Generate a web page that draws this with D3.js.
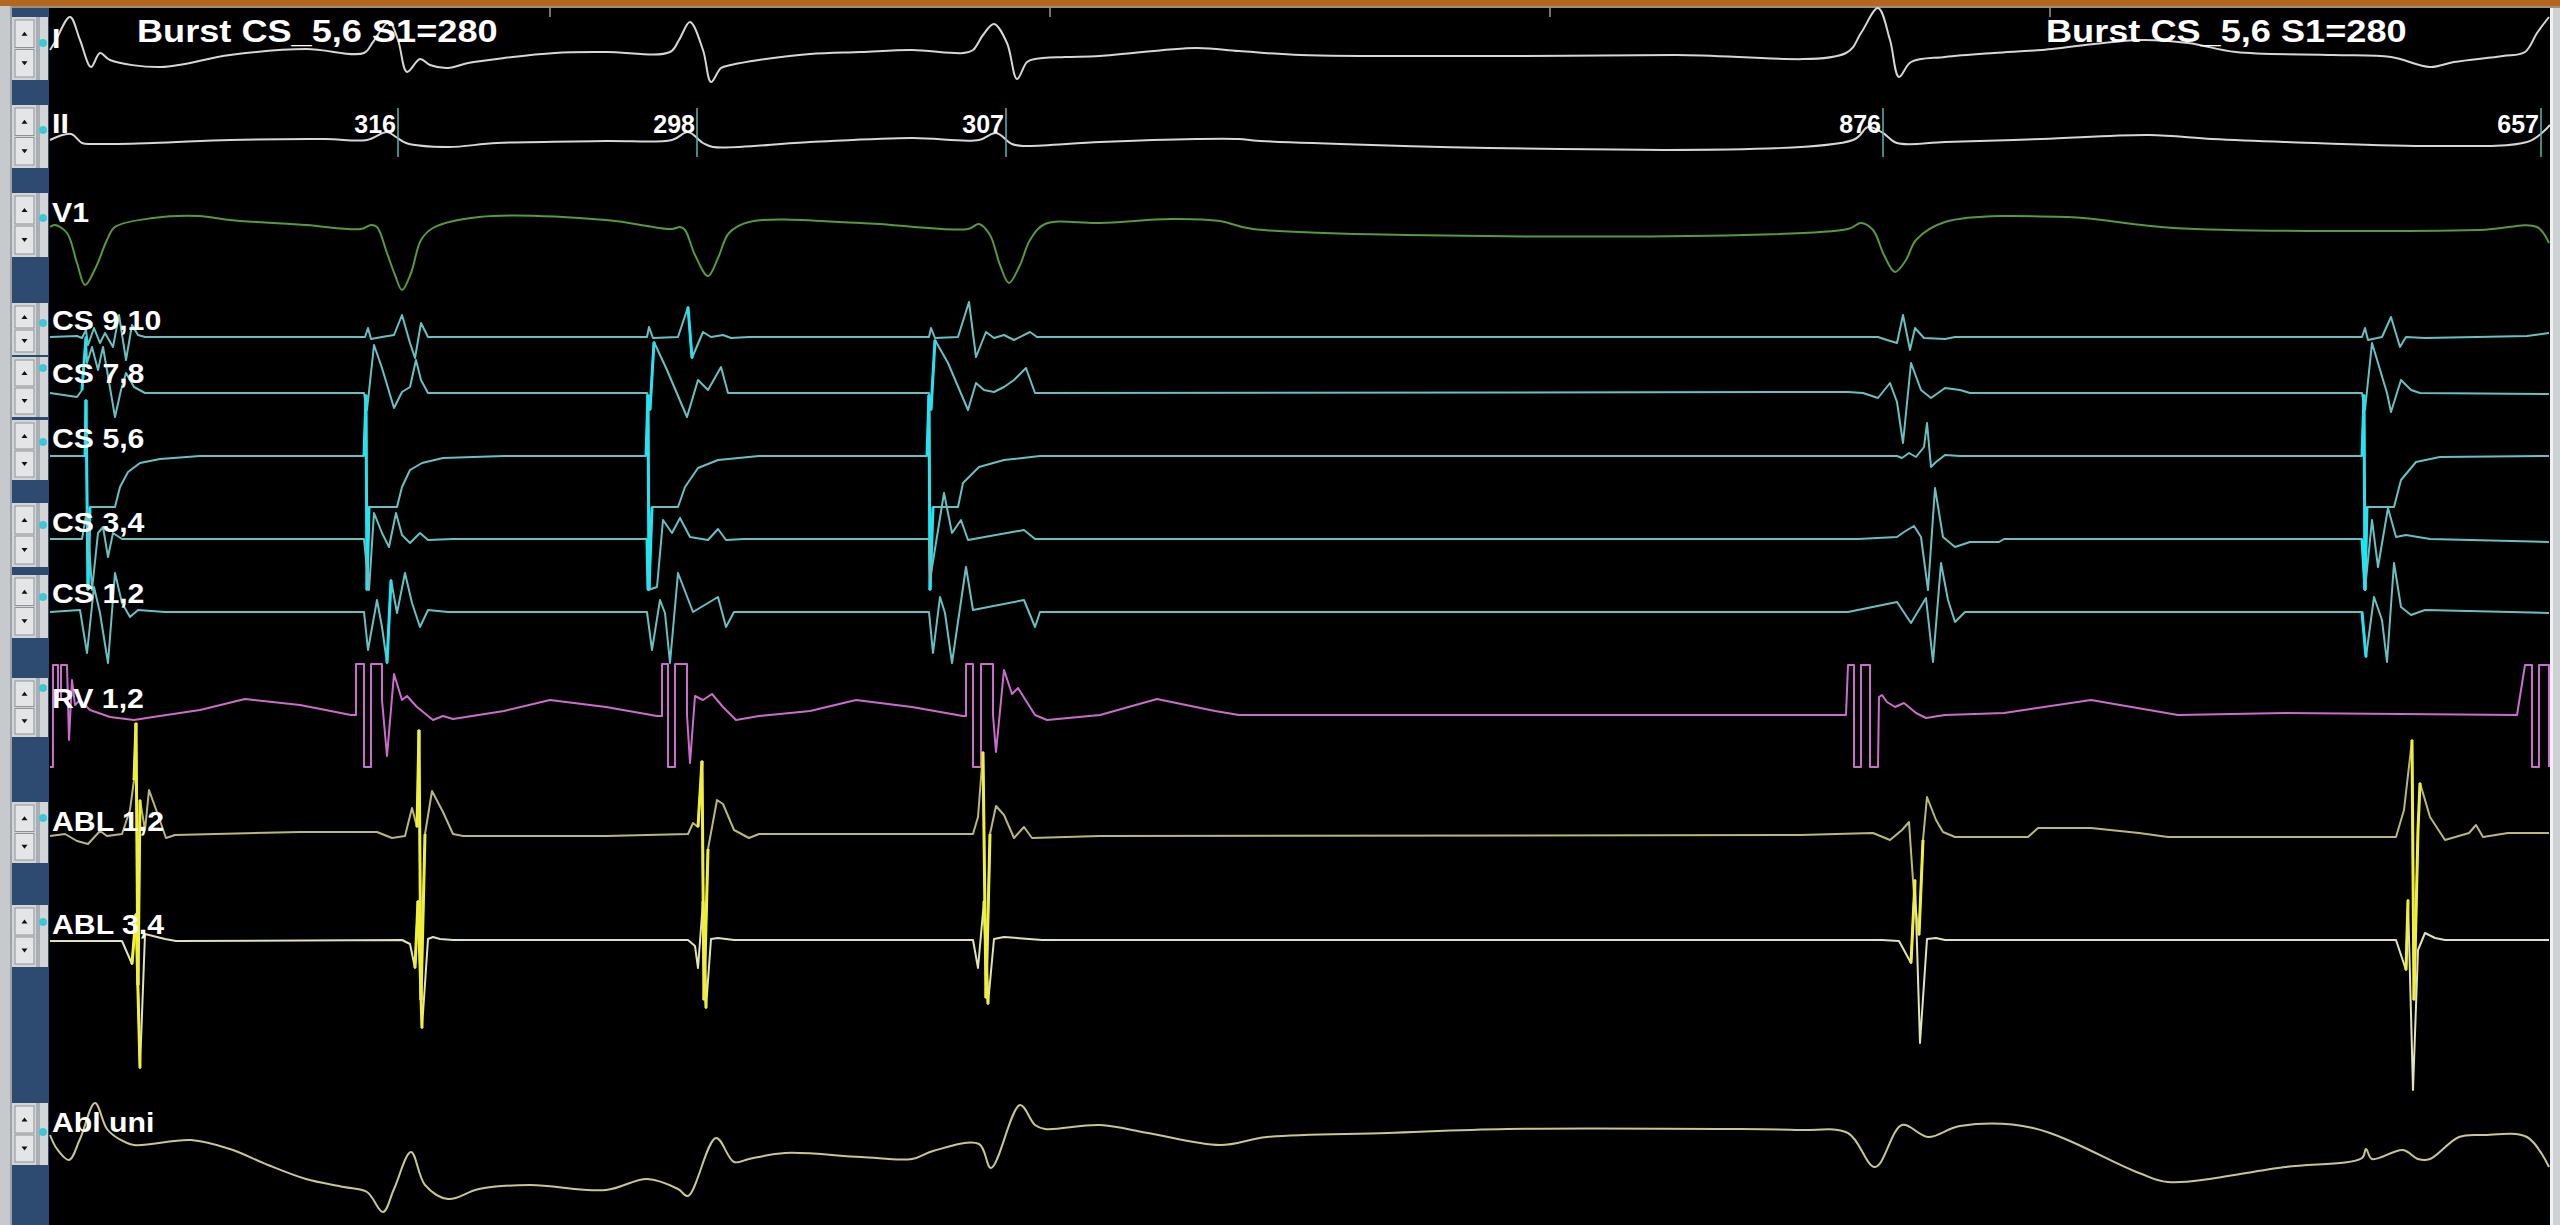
<!DOCTYPE html>
<html>
<head>
<meta charset="utf-8">
<script src="https://d3js.org/d3.v7.min.js"></script>
<style>
  body { margin: 0; background: #000; overflow: hidden; }
  .lbl { font-family: "Liberation Sans", Arial, sans-serif; font-weight: bold; fill: #fff; }
</style>
</head>
<body>
<script>
// ---- data: [time ms, amplitude] ----
const channelNames = ["I", "II", "V1", "CS 9,10", "CS 7,8", "CS 5,6", "CS 3,4", "CS 1,2", "RV 1,2", "ABL 1,2", "ABL 3,4", "Abl uni"];

const traceI = [[0,2],[5,10],[20,35],[30,12],[41,-15],[50,-1],[60,-8],[111,-15],[180,-3],[256,3],[314,-1],[323,10],[339,30],[348,12],[357,-20],[370,-7],[380,-13],[398,-16],[418,-11],[454,-6],[505,-1],[556,0],[620,0],[629,12],[640,30],[653,2],[661,-30],[671,-16],[681,-13],[709,-8],[760,-2],[811,0],[862,2],[913,-1],[923,2],[933,17],[944,28],[957,9],[967,-27],[977,-10],[985,-7],[1015,-5],[1050,-4],[1146,4],[1189,1],[1251,-3],[1433,-4],[1624,-3],[1796,-1],[1811,19],[1828,44],[1840,12],[1849,-25],[1861,-10],[1895,-5],[1944,-1],[1992,2],[2089,12],[2138,9],[2186,0],[2283,-3],[2341,-5],[2380,-15],[2404,-10],[2453,-4],[2475,0],[2487,19],[2499,35]];

const traceII = [[0,1],[21,7],[32,-2],[42,-3],[103,-2],[180,1],[275,2],[317,1],[337,9],[346,4],[356,-2],[398,-6],[447,-2],[556,0],[622,1],[638,9],[653,-2],[663,-6],[760,-1],[862,3],[929,1],[946,8],[962,-3],[974,-5],[1050,-1],[1146,2],[1189,2],[1210,0],[1803,1],[1818,14],[1833,8],[1847,-2],[1895,-1],[1992,2],[2099,6],[2162,2],[2235,-1],[2380,-5],[2477,-1],[2493,9],[2500,16]];

const traceV1 = [[0,-5],[5,-3],[17,-11],[27,-41],[35,-63],[46,-45],[57,-18],[65,-5],[103,4],[149,6],[180,2],[256,-3],[311,-7],[321,-3],[327,-5],[337,-31],[345,-53],[352,-68],[361,-51],[371,-18],[383,-6],[429,5],[556,2],[622,-7],[630,-5],[635,-8],[645,-33],[658,-54],[668,-36],[679,-11],[699,0],[811,-1],[918,-7],[929,-2],[940,-13],[950,-43],[959,-61],[970,-43],[980,-18],[995,-2],[1050,-1],[1122,3],[1170,1],[1203,-7],[1798,-7],[1811,-1],[1823,-8],[1834,-33],[1845,-50],[1856,-38],[1866,-18],[1895,0],[2017,5],[2123,-6],[2429,-8],[2487,-5],[2499,-21]];

const traceCS910 = [[0,0],[27,1],[32,-1],[36,7],[38,-8],[44,9],[50,-6],[55,4],[63,-10],[69,22],[76,-23],[82,12],[88,2],[95,0],[315,0],[318,9],[321,-2],[332,0],[344,2],[352,22],[360,-6],[365,-21],[371,14],[378,0],[390,0],[597,0],[599,10],[603,-1],[628,0],[638,30],[642,-21],[653,5],[661,0],[673,2],[681,-1],[699,0],[879,0],[881,9],[885,-1],[908,0],[919,35],[926,-20],[936,5],[944,-1],[954,2],[964,-3],[980,5],[987,0],[1828,0],[1837,-3],[1847,-6],[1853,22],[1860,-13],[1865,9],[1874,-1],[1895,-2],[1905,0],[2312,0],[2315,9],[2318,-3],[2332,0],[2341,20],[2350,-10],[2356,0],[2375,-1],[2477,1],[2499,4]];

const traceCS78 = [[0,0],[27,-4],[32,3],[36,56],[37,30],[42,46],[48,23],[53,46],[65,-24],[71,3],[76,20],[84,6],[95,0],[314,0],[317,-17],[324,48],[332,25],[344,-15],[352,1],[360,6],[366,33],[371,13],[378,0],[403,0],[597,0],[600,-17],[604,51],[617,23],[637,-24],[648,13],[658,3],[671,26],[678,0],[879,0],[881,-17],[885,53],[898,30],[918,-17],[926,10],[934,3],[944,1],[954,6],[964,13],[976,25],[985,0],[1798,1],[1813,0],[1828,-5],[1840,10],[1847,-9],[1853,-50],[1861,30],[1871,3],[1881,-5],[1895,5],[1910,3],[1920,0],[2312,0],[2315,-17],[2322,50],[2337,0],[2341,-19],[2351,13],[2361,3],[2370,0],[2499,-1]];

const traceCS56 = [[0,0],[35,0],[36,56],[38,-134],[40,-51],[65,-51],[70,-31],[78,-16],[90,-7],[110,-3],[150,0],[314,0],[316,61],[317,-134],[319,-51],[347,-51],[352,-31],[360,-14],[372,-7],[393,-2],[454,0],[596,0],[598,61],[599,-134],[602,-51],[628,-51],[635,-31],[648,-12],[668,-4],[709,0],[877,0],[879,61],[880,-134],[883,-51],[908,-51],[913,-27],[929,-11],[954,-4],[990,0],[1847,0],[1852,-2],[1859,3],[1866,-1],[1874,9],[1877,33],[1881,-11],[1886,-6],[1895,1],[1910,0],[2312,0],[2314,61],[2315,-134],[2317,-51],[2344,-51],[2351,-24],[2366,-6],[2390,-1],[2499,0]];

const traceCS34 = [[0,0],[32,0],[37,29],[42,-51],[48,6],[53,12],[58,-18],[63,6],[72,0],[314,0],[319,-51],[324,26],[332,6],[339,-8],[346,26],[352,4],[360,-4],[370,6],[378,-1],[403,0],[597,0],[598,-51],[607,-48],[613,19],[622,6],[630,21],[640,2],[658,-1],[668,10],[676,-1],[694,0],[879,0],[880,-41],[894,46],[902,6],[911,19],[918,-1],[974,9],[985,0],[1808,0],[1847,2],[1854,7],[1864,13],[1871,2],[1878,-51],[1885,51],[1893,2],[1905,-8],[1920,-3],[1949,-3],[1954,0],[2312,0],[2315,-51],[2322,19],[2328,-28],[2338,31],[2346,2],[2356,4],[2380,0],[2499,-3]];

const traceCS12 = [[0,0],[30,2],[37,-41],[44,25],[50,-1],[58,-51],[65,39],[72,9],[80,-5],[88,2],[115,0],[314,0],[318,-38],[327,12],[332,-15],[337,-51],[341,32],[347,-1],[355,39],[362,9],[370,-15],[378,2],[398,0],[597,0],[602,-38],[610,12],[615,-1],[620,-51],[628,39],[643,0],[668,15],[676,-15],[684,0],[879,0],[883,-41],[890,15],[895,-1],[902,-51],[916,45],[923,2],[974,12],[985,-15],[990,0],[1798,0],[1847,10],[1861,-11],[1876,14],[1883,-50],[1891,49],[1898,12],[1905,-10],[1915,0],[2312,0],[2316,-45],[2324,15],[2332,-8],[2337,-50],[2344,49],[2351,5],[2361,-3],[2375,2],[2499,-1]];

const traceRV = [[0,-52],[3,-52],[3,50],[8,50],[8,15],[11,15],[11,50],[17,50],[19,-25],[22,35],[25,10],[30,15],[40,5],[60,-2],[84,-5],[103,-2],[150,5],[195,16],[250,10],[301,0],[306,0],[306,51],[314,51],[314,-52],[321,-52],[321,51],[332,51],[332,15],[337,-41],[344,41],[352,15],[357,19],[367,8],[383,-5],[393,-1],[403,-4],[454,4],[500,15],[556,8],[607,-1],[612,-1],[612,51],[618,51],[618,-52],[625,-52],[625,51],[637,51],[637,0],[640,-48],[645,19],[653,15],[662,21],[673,8],[686,-5],[709,-1],[760,4],[806,15],[862,8],[913,-1],[916,-1],[916,51],[923,51],[923,-52],[931,-52],[931,51],[943,51],[943,0],[946,-37],[954,45],[962,21],[968,27],[985,0],[997,-5],[1050,0],[1107,16],[1165,4],[1189,0],[1796,0],[1798,50],[1804,50],[1804,-52],[1811,-52],[1811,50],[1820,50],[1820,-52],[1828,-52],[1829,18],[1832,20],[1837,13],[1845,8],[1854,12],[1866,2],[1876,-3],[1895,0],[1954,2],[2041,15],[2128,0],[2235,2],[2467,0],[2475,50],[2482,50],[2482,-52],[2489,-52],[2489,50],[2499,50],[2499,-52]];

const traceABL12 = [[0,-1],[15,1],[27,-6],[38,-9],[50,4],[57,-1],[72,1],[80,25],[84,55],[86,112],[88,-150],[90,35],[95,5],[99,45],[108,20],[116,-3],[125,0],[250,3],[327,3],[342,-3],[355,-1],[362,27],[367,8],[369,105],[371,-165],[375,1],[382,44],[393,23],[403,1],[413,-1],[556,-1],[638,1],[643,12],[648,8],[652,74],[654,-165],[658,-14],[667,35],[673,31],[684,5],[699,-3],[709,1],[923,1],[928,18],[933,83],[936,-163],[940,1],[946,29],[954,20],[964,-3],[974,8],[982,-3],[1050,-1],[1750,0],[1823,2],[1840,-5],[1852,5],[1859,13],[1864,-60],[1869,-100],[1873,-5],[1877,38],[1886,15],[1893,3],[1905,-2],[1978,-2],[1988,7],[2041,7],[2089,2],[2118,-2],[2346,-2],[2354,25],[2362,95],[2364,-165],[2368,5],[2370,52],[2380,18],[2395,-5],[2419,2],[2426,10],[2433,-2],[2458,2],[2499,2]];

const traceABL34 = [[0,-1],[72,-1],[82,-24],[86,26],[90,-128],[95,6],[103,4],[115,1],[126,-1],[352,0],[360,-4],[365,-28],[368,39],[372,-88],[378,1],[383,3],[390,1],[403,0],[638,0],[645,-6],[648,-28],[653,39],[656,-68],[661,1],[668,2],[684,0],[923,0],[928,-28],[934,39],[938,-64],[944,1],[954,3],[992,0],[1832,0],[1849,-1],[1861,-23],[1865,60],[1870,-103],[1877,1],[1886,2],[1895,0],[2346,0],[2356,-30],[2358,40],[2363,-150],[2368,-10],[2375,7],[2385,2],[2395,0],[2499,0]];

const traceAblUni = [[0,15],[7,1],[19,-10],[30,11],[45,47],[57,21],[69,11],[84,5],[141,10],[180,1],[218,-15],[256,-29],[294,-37],[317,-42],[333,-62],[344,-39],[361,-2],[375,-35],[398,-49],[429,-39],[480,-35],[556,-40],[597,-29],[628,-39],[638,-46],[666,12],[684,-12],[699,-9],[735,-3],[811,-7],[862,-9],[883,-1],[929,6],[941,-18],[970,45],[985,25],[995,21],[1050,25],[1098,17],[1170,5],[1217,13],[1337,17],[1457,21],[1672,21],[1750,20],[1798,17],[1825,-17],[1852,25],[1878,13],[1910,24],[1983,22],[2089,-23],[2118,-32],[2235,-17],[2312,-8],[2316,1],[2322,-9],[2353,0],[2368,-9],[2380,-9],[2409,13],[2433,15],[2477,13],[2499,-17]];

const markerTimes = [348, 647, 956, 1833, 2491];
const markerLabels = ["316", "298", "307", "876", "657"];
const titleText = "Burst CS_5,6 S1=280";
const timeTicks = [500, 1000, 1500, 2000];

// ---- layout / styles ----
const W = 2560, H = 1225;
const plotLeft = 49, plotRight = 2550;
const traces = [traceI, traceII, traceV1, traceCS910, traceCS78, traceCS56, traceCS34, traceCS12, traceRV, traceABL12, traceABL34, traceAblUni];
const baselines = [52, 141, 222, 337, 393, 456, 539, 612, 715, 835, 940, 1150];
const colors = ["#d6d6d6", "#d6d6d6", "#559a3c", "#68c0c2", "#68c0c2", "#68c0c2", "#68c0c2", "#68c0c2", "#cc6ccc", "#b9b876", "#e2e2b6", "#c8c78c"];
const spikeColors = [null, null, null, "#22e4f2", "#22e4f2", "#22e4f2", "#22e4f2", "#22e4f2", null, "#f0f03a", "#f0f03a", null];
const smooth = [true, true, true, false, false, false, false, false, false, false, false, true];
const panelTop =    [17, 105, 193, 303, 357, 420, 503, 575, 678, 802, 905, 1103];
const panelBottom = [80, 168, 257, 355, 417, 480, 567, 638, 737, 863, 967, 1165];
const dotY =        [43, 130, 218, 323, 368, 442, 525, 597, 688, 818, 922, 1132];
const labelY =      [48, 133, 222, 330, 383, 448, 532, 603, 708, 831, 934, 1132];

const svg = d3.select("body").append("svg")
    .attr("width", W).attr("height", H)
    .style("display", "block");

svg.append("rect").attr("width", W).attr("height", H).attr("fill", "#000");

// time scale, about 1 px per ms
const x = d3.scaleLinear().domain([0, 2500]).range([50, 2550]);

svg.append("clipPath").attr("id", "plotClip")
  .append("rect").attr("x", plotLeft).attr("y", 0).attr("width", plotRight - plotLeft).attr("height", H);

// top frame bar + time ticks
svg.append("rect").attr("x", 0).attr("y", 0).attr("width", W).attr("height", 6).attr("fill", "#b4681f");
svg.append("rect").attr("x", 0).attr("y", 6).attr("width", W).attr("height", 2).attr("fill", "#9a8e80");
svg.selectAll(".tick").data(timeTicks).enter().append("line")
    .attr("x1", d => x(d)).attr("x2", d => x(d))
    .attr("y1", 8).attr("y2", 17)
    .attr("stroke", "#9a9a9a").attr("stroke-width", 1.5);

// left control column
svg.append("rect").attr("x", 0).attr("y", 6).attr("width", 12).attr("height", H).attr("fill", "#c6cacd");
svg.append("rect").attr("x", 10).attr("y", 6).attr("width", 2).attr("height", H).attr("fill", "#9ca2a8");
svg.append("rect").attr("x", 12).attr("y", 8).attr("width", plotLeft - 12).attr("height", H).attr("fill", "#2d4b70");

const panels = svg.append("g");
channelNames.forEach(function(name, i) {
    var top = panelTop[i], bot = panelBottom[i], mid = (top + bot) / 2;
    var g = panels.append("g");
    g.append("rect").attr("x", 12).attr("y", top).attr("width", plotLeft - 13).attr("height", bot - top).attr("fill", "#d3d6d9");
    g.append("rect").attr("x", 36).attr("y", top).attr("width", 4).attr("height", bot - top).attr("fill", "#a9aeb3");
    // up / down buttons
    [[top + 3, mid - 1], [mid + 1, bot - 3]].forEach(function(b, k) {
        g.append("rect").attr("x", 15).attr("y", b[0]).attr("width", 19).attr("height", b[1] - b[0])
            .attr("fill", "#e3e5e7").attr("stroke", "#8d9398").attr("stroke-width", 1);
        var cy = (b[0] + b[1]) / 2, cx = 24.5;
        var pts = k === 0
            ? [[cx - 3, cy + 2], [cx + 3, cy + 2], [cx, cy - 2]]
            : [[cx - 3, cy - 2], [cx + 3, cy - 2], [cx, cy + 2]];
        g.append("polygon").attr("points", pts.map(p => p.join(",")).join(" ")).attr("fill", "#111");
    });
});

// right edge
svg.append("rect").attr("x", plotRight).attr("y", 8).attr("width", W - plotRight).attr("height", H).attr("fill", "#cfd2d4");
svg.append("rect").attr("x", plotRight).attr("y", 8).attr("width", 3).attr("height", H).attr("fill", "#f2f2f2");

// traces
const plot = svg.append("g").attr("clip-path", "url(#plotClip)");

traces.forEach(function(data, i) {
    var y = d3.scaleLinear().domain([0, 100]).range([baselines[i], baselines[i] - 100]);
    var line = d3.line().x(d => x(d[0])).y(d => y(d[1]))
        .curve(smooth[i] ? d3.curveCatmullRom.alpha(0.5) : d3.curveLinear);
    plot.append("path").datum(data)
        .attr("d", line)
        .attr("fill", "none")
        .attr("stroke", colors[i])
        .attr("stroke-width", 2)
        .attr("stroke-linejoin", "round");

    // fast deflections (stimulus artefacts / sharp spikes) look brighter
    if (spikeColors[i]) {
        var steep = [];
        for (var k = 1; k < data.length; k++) {
            var dt = data[k][0] - data[k - 1][0], dv = Math.abs(data[k][1] - data[k - 1][1]);
            if (dt <= 4 && dv >= 45) steep.push([data[k - 1], data[k]]);
        }
        plot.selectAll(null).data(steep).enter().append("line")
            .attr("x1", d => x(d[0][0])).attr("y1", d => y(d[0][1]))
            .attr("x2", d => x(d[1][0])).attr("y2", d => y(d[1][1]))
            .attr("stroke", spikeColors[i])
            .attr("stroke-width", 3);
    }
});

// interval markers on lead II
const yII = baselines[1];
plot.selectAll(".marker").data(markerTimes).enter().append("line")
    .attr("x1", d => x(d)).attr("x2", d => x(d))
    .attr("y1", yII - 33).attr("y2", yII + 16)
    .attr("stroke", "#5ab5b8").attr("stroke-width", 1.5);

svg.selectAll(".mlabel").data(markerTimes).enter().append("text")
    .attr("class", "lbl")
    .attr("x", d => x(d) - 2).attr("y", yII - 8)
    .attr("text-anchor", "end")
    .style("font-size", "25px")
    .text((d, i) => markerLabels[i]);

// channel labels and dots
channelNames.forEach(function(name, i) {
    svg.append("circle").attr("cx", 43).attr("cy", dotY[i]).attr("r", 4).attr("fill", "#3cc9d6");
    svg.append("text").attr("class", "lbl")
        .attr("transform", "translate(52," + labelY[i] + ") scale(1.08,1)")
        .style("font-size", "28px")
        .text(name);
});

// protocol annotation (shown twice)
[137, 2046].forEach(function(px) {
    svg.append("text").attr("class", "lbl")
        .attr("transform", "translate(" + px + ",42) scale(1.13,1)")
        .style("font-size", "32px")
        .text(titleText);
});
</script>
</body>
</html>
